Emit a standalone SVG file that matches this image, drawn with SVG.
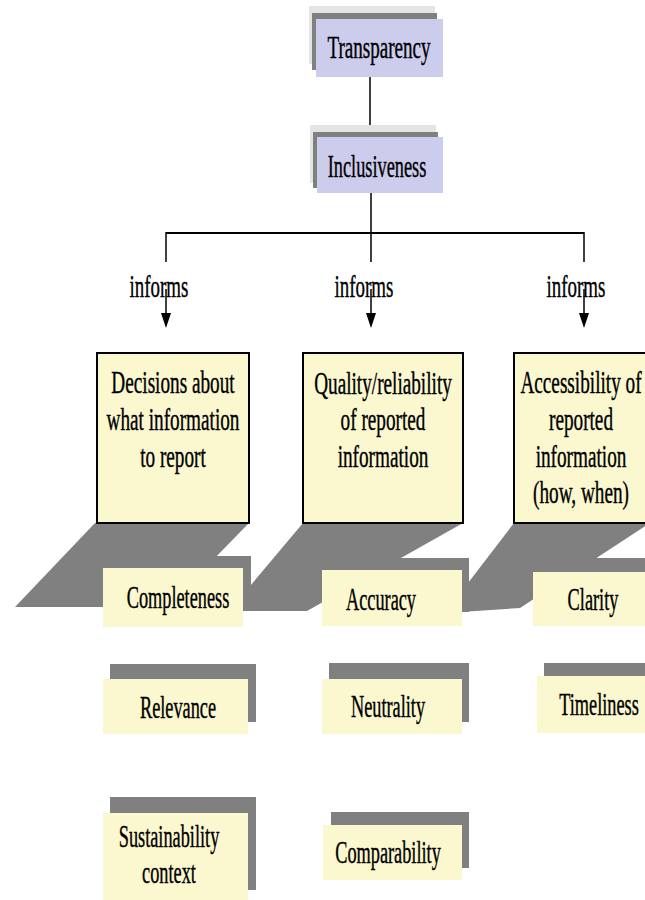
<svg xmlns="http://www.w3.org/2000/svg" width="645" height="900" viewBox="0 0 645 900">
<defs>
<style>
.t{font-family:'Liberation Serif','Times New Roman','DejaVu Serif',serif;font-size:31px;fill:#000;stroke:#000;stroke-width:0.4;text-anchor:middle}
.lav{fill:#ccccec}
.lg{fill:#e4e4e4}
.dg{fill:#808080}
.yb{fill:#fbf8d0;stroke:#000;stroke-width:2}
.ys{fill:#fbf8d0}
.ln{stroke:#000;stroke-width:1.5;fill:none}
.bar{stroke:#000;stroke-width:2.2;fill:none}
.ah{fill:#000}
</style>
</defs>
<rect width="645" height="900" fill="#fff"/>

<g id="connectors">
<line class="ln" x1="370" y1="70" x2="370" y2="137"/>
<line class="ln" x1="371" y1="193" x2="371" y2="262"/>
<line class="bar" x1="166" y1="233" x2="584" y2="233"/>
<line class="ln" x1="166" y1="232" x2="166" y2="262"/>
<line class="ln" x1="584" y1="232" x2="584" y2="262"/>
<line class="ln" x1="166" y1="289" x2="166" y2="314"/>
<path class="ah" d="M161,313 L171,313 L166,328 Z"/>
<line class="ln" x1="371" y1="289" x2="371" y2="314"/>
<path class="ah" d="M366,313 L376,313 L371,328 Z"/>
<line class="ln" x1="584" y1="289" x2="584" y2="314"/>
<path class="ah" d="M579,313 L589,313 L584,328 Z"/>
<text class="t" transform="translate(159,297) scale(0.61,1)">informs</text>
<text class="t" transform="translate(364,297) scale(0.61,1)">informs</text>
<text class="t" transform="translate(576,297) scale(0.61,1)">informs</text>
</g>

<g id="transparency">
<rect class="lg" x="309" y="6" width="126" height="58"/>
<rect class="dg" x="312" y="13" width="125" height="57"/>
<rect class="lav" x="316" y="19" width="127" height="58"/>
<text class="t" transform="translate(379,58) scale(0.615,1)">Transparency</text>
</g>

<g id="inclusiveness">
<rect class="lg" x="310" y="125" width="126" height="58"/>
<rect class="dg" x="313" y="132" width="125" height="56"/>
<rect class="lav" x="317" y="137" width="126" height="56"/>
<text class="t" transform="translate(377,177) scale(0.59,1)">Inclusiveness</text>
</g>

<g id="shadows">
<polygon class="dg" points="95,523 249,523 167,607 15,607"/>
<polygon class="dg" points="303,523 463,523 307,611 229,611"/>
<polygon class="dg" points="514,523 650,523 520,608 445,613"/>
<rect class="dg" x="110" y="556" width="141" height="53"/>
<rect class="dg" x="329" y="558" width="140" height="54"/>
<rect class="dg" x="540" y="558" width="110" height="52"/>
</g>

<g id="decisions">
<rect class="yb" x="97" y="353" width="152" height="170"/>
<text class="t" transform="translate(173,0) scale(0.62,1)"><tspan x="0" y="393">Decisions about</tspan><tspan x="0" y="430">what information</tspan><tspan x="0" y="467">to report</tspan></text>
</g>

<g id="quality">
<rect class="yb" x="303" y="353" width="160" height="170"/>
<text class="t" transform="translate(383,0) scale(0.62,1)"><tspan x="0" y="394">Quality/reliability</tspan><tspan x="0" y="430">of reported</tspan><tspan x="0" y="467">information</tspan></text>
</g>

<g id="accessibility">
<rect class="yb" x="514" y="353" width="140" height="170"/>
<text class="t" transform="translate(581,0) scale(0.62,1)"><tspan x="0" y="393">Accessibility of</tspan><tspan x="0" y="430">reported</tspan><tspan x="0" y="467">information</tspan><tspan x="0" y="503">(how, when)</tspan></text>
</g>

<g id="completeness">
<rect class="ys" x="103" y="568" width="140" height="59"/>
<text class="t" transform="translate(178,608) scale(0.59,1)">Completeness</text>
</g>

<g id="relevance">
<rect class="dg" x="110" y="664" width="146" height="58"/>
<rect class="ys" x="103" y="679" width="145" height="55"/>
<text class="t" transform="translate(178,718) scale(0.59,1)">Relevance</text>
</g>

<g id="sustainability">
<rect class="dg" x="110" y="797" width="146" height="93"/>
<rect class="ys" x="103" y="813" width="145" height="87"/>
<text class="t" transform="translate(169,0) scale(0.59,1)"><tspan x="0" y="847">Sustainability</tspan><tspan x="0" y="883">context</tspan></text>
</g>

<g id="accuracy">
<rect class="ys" x="322" y="570" width="140" height="56"/>
<text class="t" transform="translate(381,610) scale(0.59,1)">Accuracy</text>
</g>

<g id="neutrality">
<rect class="dg" x="329" y="663" width="140" height="59"/>
<rect class="ys" x="322" y="679" width="140" height="55"/>
<text class="t" transform="translate(388,717) scale(0.59,1)">Neutrality</text>
</g>

<g id="comparability">
<rect class="dg" x="331" y="812" width="138" height="56"/>
<rect class="ys" x="323" y="825" width="139" height="55"/>
<text class="t" transform="translate(388,863) scale(0.59,1)">Comparability</text>
</g>

<g id="clarity">
<rect class="ys" x="533" y="572" width="117" height="54"/>
<text class="t" transform="translate(593,610) scale(0.59,1)">Clarity</text>
</g>

<g id="timeliness">
<rect class="dg" x="544" y="663" width="106" height="57"/>
<rect class="ys" x="537" y="676" width="113" height="57"/>
<text class="t" transform="translate(599,715) scale(0.59,1)">Timeliness</text>
</g>
</svg>
